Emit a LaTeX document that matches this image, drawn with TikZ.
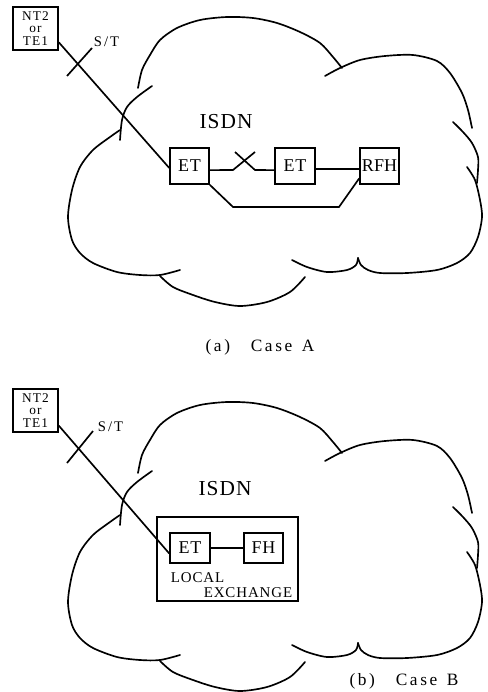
\documentclass[tikz,border=0pt]{standalone}
\usepackage{fontspec}
\setmainfont{Liberation Serif}
\usetikzlibrary{calc}
\begin{document}
\begin{tikzpicture}[x=0.75pt,y=-0.75pt,line width=1.25pt,
  box/.style={draw,line width=1.25pt,inner sep=0pt,font=\fontsize{13.5}{15}\selectfont\addfontfeatures{LetterSpace=4}},
  ntbox/.style={draw,line width=1.25pt,inner sep=0pt,align=center,minimum width=33.75pt,minimum height=32.25pt,
    font=\fontsize{10}{9.6}\selectfont\addfontfeatures{LetterSpace=8}},
  stlbl/.style={inner sep=0pt,font=\fontsize{11}{13}\selectfont\addfontfeatures{LetterSpace=14}},
  isdnlbl/.style={inner sep=0pt,font=\fontsize{16}{18}\selectfont\addfontfeatures{LetterSpace=5}},
  lexlbl/.style={inner sep=0pt,font=\fontsize{11.2}{13}\selectfont\addfontfeatures{LetterSpace=6}},
  caplbl/.style={inner sep=0pt,font=\fontsize{13}{15}\selectfont\addfontfeatures{LetterSpace=15}},
  cloudline/.style={line width=1.25pt,line cap=round,line join=round},
  isdncloud/.pic={
    \draw[cloudline] plot[smooth] coordinates {(138,88) (142,70) (150,55) (160,40) (177,28) (200,20) (227,17) (253,18) (277,23) (300,32) (320,43) (333,57) (342,68)};
    \draw[cloudline] plot[smooth] coordinates {(325,76) (340,68) (360,60) (385,56) (413,55) (437,61) (450,73) (462,93) (468,110) (472,128)};
    \draw[cloudline] plot[smooth] coordinates {(453,122) (463,132) (472,143) (478,157) (478,170) (477,183)};
    \draw[cloudline] plot[smooth] coordinates {(467,167) (475,180) (480,200) (482,217) (478,237) (470,253) (457,263) (437,270) (407,273) (380,273) (368,270) (361,265) (358,258)};
    \draw[cloudline] plot[smooth] coordinates {(292,260) (307,267) (327,272) (347,270) (356,265) (358,258)};
    \draw[cloudline] plot[smooth] coordinates {(160,276) (173,287) (193,295) (215,302) (240,306) (267,302) (290,292) (305,277)};
    \draw[cloudline] plot[smooth] coordinates {(180,270) (160,275) (140,275) (117,272) (93,263) (80,253) (72,240) (68,217) (72,190) (80,167) (93,150) (110,137) (120,130)};
    \draw[cloudline] plot[smooth] coordinates {(152,86) (137,97) (127,107) (122,120) (120,140)};
  }]
\useasboundingbox (0,0) rectangle (487,692);

% ---------------- Case A ----------------
\pic at (0,0) {isdncloud};
\node[ntbox] (ntA) at (35.5,28.5) {NT2\\or\\TE1};
\node[box,minimum width=29.25pt,minimum height=27pt] (etA1) at (189.5,166) {ET};
\node[box,minimum width=30pt,minimum height=27pt] (etA2) at (295,166) {ET};
\node[box,minimum width=29.25pt,minimum height=27pt,font=\fontsize{13.5}{15}\selectfont] (rfhA) at (379.5,166) {RFH};
\node[isdnlbl] (isdnA) at (226,122) {ISDN};
\node[stlbl,anchor=west] (stA) at (93,42) {S/T};
\coordinate (stA1) at (67,76);
\coordinate (stA2) at (92,48);
\draw (stA1) -- (stA2);
\draw ($(ntA.north east)!0.81!(ntA.south east)$) -- ($(etA1.north west)!0.55!(etA1.south west)$);
\coordinate (swA1) at (233,170);
\coordinate (swA2) at (255,152);
\coordinate (swA3) at (235,152);
\coordinate (swA4) at (255,170);
\draw ($(etA1.north east)!0.61!(etA1.south east)$) -- (swA1) -- (swA2);
\draw (swA3) -- (swA4) -- ($(etA2.north west)!0.61!(etA2.south west)$);
\draw ($(etA2.north east)!0.58!(etA2.south east)$) -- ($(rfhA.north west)!0.58!(rfhA.south west)$);
\coordinate (bpA1) at (233,207);
\coordinate (bpA2) at (339,207);
\draw (etA1.south east) -- (bpA1) -- (bpA2) -- ($(rfhA.north west)!0.83!(rfhA.south west)$);
\node[caplbl] (capA) at (260,347) {(a)\hspace{1.2em}Case\hspace{0.55em}A};

% ---------------- Case B ----------------
\pic at (0,385) {isdncloud};
\node[ntbox] (ntB) at (35.5,410.5) {NT2\\or\\TE1};
\node[draw,line width=1.25pt,minimum width=105.75pt,minimum height=63pt,inner sep=0pt] (lexB) at (227.5,559) {};
\node[box,minimum width=30pt,minimum height=22.5pt] (etB) at (190,548) {ET};
\node[box,minimum width=29.25pt,minimum height=22.5pt] (fhB) at (263.5,548) {FH};
\node[lexlbl,anchor=base west] (locB) at (170,582) {LOCAL};
\node[lexlbl,anchor=base east] (excB) at (293,597) {EXCHANGE};
\node[isdnlbl] (isdnB) at (225,489) {ISDN};
\node[stlbl,anchor=west] (stB) at (97,427) {S/T};
\coordinate (stB1) at (67,463);
\coordinate (stB2) at (93,431);
\draw (stB1) -- (stB2);
\draw ($(ntB.north east)!0.84!(ntB.south east)$) -- ($(etB.north west)!0.67!(etB.south west)$);
\draw (etB) -- (fhB);
\node[caplbl] (capB) at (404,681) {(b)\hspace{1.2em}Case\hspace{0.55em}B};
\end{tikzpicture}
\end{document}
